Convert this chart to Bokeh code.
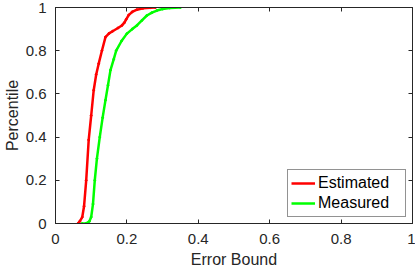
from bokeh.plotting import figure
from bokeh.models import LinearAxis, FixedTicker, Legend, LegendItem, Range1d
from bokeh.embed import file_html
from bokeh.resources import INLINE

# Data (CDF of error bound)
est_x = [0.063, 0.068, 0.075, 0.080, 0.086, 0.093, 0.100, 0.107, 0.114, 0.121, 0.130, 0.140,
         0.150, 0.160, 0.175, 0.186, 0.193, 0.198, 0.205, 0.215, 0.228, 0.245, 0.265, 0.280]
est_y = [0.0, 0.01, 0.03, 0.08, 0.20, 0.387, 0.50, 0.617, 0.69, 0.74, 0.80, 0.863,
         0.88, 0.89, 0.905, 0.917, 0.93, 0.945, 0.965, 0.98, 0.99, 0.996, 0.999, 1.0]

mea_x = [0.074, 0.085, 0.095, 0.100, 0.105, 0.110, 0.116, 0.124, 0.132, 0.140, 0.147, 0.154,
         0.163, 0.170, 0.185, 0.200, 0.215, 0.228, 0.242, 0.256, 0.270, 0.284, 0.300, 0.320, 0.350]
mea_y = [0.0, 0.0, 0.01, 0.03, 0.09, 0.20, 0.30, 0.40, 0.49, 0.571, 0.64, 0.71,
         0.76, 0.80, 0.845, 0.879, 0.90, 0.917, 0.94, 0.963, 0.976, 0.986, 0.993, 0.998, 1.0]

ticks = [0, 0.2, 0.4, 0.6, 0.8, 1]
tick_labels = {0: "0", 0.2: "0.2", 0.4: "0.4", 0.6: "0.6", 0.8: "0.8", 1: "1"}

FONT = "Liberation Sans"
TXT = "#262626"

p = figure(width=415, height=270, output_backend="svg", toolbar_location=None,
           x_range=Range1d(0, 1), y_range=Range1d(0, 1),
           min_border_left=55, min_border_right=3, min_border_top=7, min_border_bottom=46,
           x_axis_label="Error Bound", y_axis_label="Percentile")
p.grid.visible = False
p.outline_line_color = TXT
p.outline_line_width = 1
p.background_fill_color = "white"
p.border_fill_color = "white"

for ax in (p.xaxis[0], p.yaxis[0]):
    ax.ticker = FixedTicker(ticks=ticks)
    ax.major_label_overrides = tick_labels
    ax.major_tick_in = 4
    ax.major_tick_out = 0
    ax.minor_tick_in = 0
    ax.minor_tick_out = 0
    ax.axis_line_color = TXT
    ax.major_tick_line_color = TXT
    ax.major_label_text_font = FONT
    ax.major_label_text_font_size = "15px"
    ax.major_label_text_color = TXT
    ax.axis_label_text_font = FONT
    ax.axis_label_text_font_size = "16px"
    ax.axis_label_text_font_style = "normal"
    ax.axis_label_text_color = TXT

p.xaxis.major_label_standoff = 10
p.xaxis.axis_label_standoff = 4
p.yaxis.major_label_standoff = 9
p.yaxis.axis_label_standoff = 2

# mirrored ticks on top and right
for loc in ("above", "right"):
    a = LinearAxis(ticker=FixedTicker(ticks=ticks), major_tick_in=4, major_tick_out=0,
                   minor_tick_in=0, minor_tick_out=0, major_label_text_font_size="0px",
                   major_label_standoff=0, axis_line_color=TXT, major_tick_line_color=TXT)
    p.add_layout(a, loc)

r1 = p.line(est_x, est_y, line_color="#ff0000", line_width=2.5)
p.scatter(est_x, est_y, size=2, color="#ff0000")
r2 = p.line(mea_x, mea_y, line_color="#00ff00", line_width=2.5)
p.scatter(mea_x, mea_y, size=2, color="#00ff00")

legend = Legend(items=[LegendItem(label="Estimated", renderers=[r1]),
                       LegendItem(label="Measured", renderers=[r2])],
                location="bottom_right")
legend.label_text_font = FONT
legend.label_text_font_size = "16px"
legend.label_text_color = "black"
legend.padding = 3
legend.spacing = 0
legend.margin = 6
legend.glyph_width = 24
legend.glyph_height = 20
legend.label_height = 20
legend.label_width = 84
legend.label_standoff = 3
legend.border_line_color = TXT
legend.border_line_width = 1
legend.background_fill_alpha = 1
p.add_layout(legend)

open("out.html", "w").write(file_html(p, INLINE))
